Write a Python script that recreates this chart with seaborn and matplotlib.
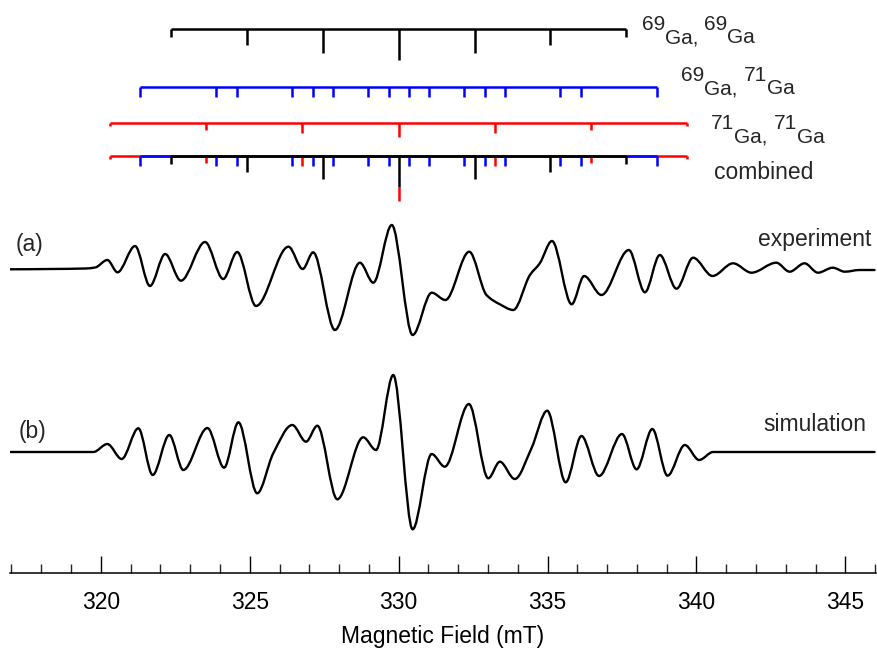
import numpy as np
import pandas as pd
import matplotlib
matplotlib.use("Agg")
import matplotlib.pyplot as plt
from matplotlib.path import Path
from matplotlib.patches import PathPatch
from matplotlib import transforms
import seaborn as sns

# ---------------------------------------------------------------- data
# Stick spectra (line positions in mT, relative intensities)
ga69_69_field = [322.37, 324.91, 327.46, 330.00, 332.55, 335.09, 337.64]
ga69_69_int = [1, 2, 3, 4, 3, 2, 1]

ga69_71_field = [321.33, 323.88, 324.57, 326.42, 327.11, 327.80, 328.97, 329.66,
                 330.34, 331.03, 332.20, 332.89, 333.58, 335.43, 336.12, 338.67]
ga69_71_int = [1.33] * 16

ga71_71_field = [320.30, 323.53, 326.77, 330.00, 333.23, 336.47, 339.70]
ga71_71_int = [0.44, 0.88, 1.32, 1.76, 1.32, 0.88, 0.44]

# Experimental spectrum: turning points / shoulders of the derivative trace
exp_field = [316.96, 318.30, 319.48, 319.81, 320.22, 320.56, 321.15, 321.65, 322.16,
             322.69, 323.50, 324.11, 324.58, 325.21, 326.30, 326.78, 327.13, 327.86,
             328.70, 329.15, 329.77, 330.47, 331.11, 331.57, 332.37, 332.95, 333.40,
             333.85, 334.41, 334.74, 335.15, 335.81, 336.23, 336.81, 337.73, 338.27,
             338.77, 339.33, 339.89, 340.54, 341.23, 341.85, 342.68, 343.13, 343.63,
             344.08, 344.58, 344.98, 345.48, 345.98]
exp_signal = [-0.3, 0.0, 0.5, 1.5, 9.0, -3.3, 23.0, -17.0, 15.0,
              -11.7, 27.0, -10.0, 17.0, -37.0, 22.3, 0.0, 16.7, -61.0,
              6.3, -13.7, 44.0, -66.0, -23.7, -31.0, 17.3, -26.0, -35.3,
              -41.0, -6.0, 5.7, 28.0, -35.3, -7.0, -26.0, 19.0, -23.3,
              14.0, -19.7, 11.3, -7.0, 5.7, -3.7, 6.3, -2.7, 5.7,
              -3.7, 1.3, -2.7, -1.0, -1.0]

# Simulated spectrum
sim_field = [316.96, 319.75, 320.22, 320.70, 321.26, 321.74, 322.30, 322.77, 323.58,
             324.14, 324.62, 325.25, 325.79, 326.43, 326.89, 327.27, 327.94, 328.81,
             329.24, 329.82, 330.47, 331.11, 331.55, 332.36, 333.01, 333.40, 333.90,
             334.46, 334.99, 335.61, 336.14, 336.73, 337.50, 337.99, 338.52, 339.03,
             339.61, 340.09, 340.56, 345.98]
sim_signal = [0.0, 0.0, 8.0, -7.0, 23.7, -23.0, 17.0, -18.0, 24.0,
              -15.7, 29.7, -41.3, -1.3, 27.0, 10.3, 26.3, -47.3, 14.7,
              2.0, 77.0, -77.3, -2.0, -14.7, 48.0, -26.3, -9.7, -27.0,
              3.7, 41.3, -30.3, 16.0, -24.0, 18.0, -17.3, 23.0, -23.7,
              7.0, -8.0, 0.0, 0.0]

x_ticks_major = [320, 325, 330, 335, 340, 345]

# ---------------------------------------------------------------- layout
W, H = 877, 650
AX_BOTTOM_ROW = 572.7          # pixel row of the field axis
X_LEFT_PX, X_RIGHT_PX = 10, 876
XLIM = (316.95, 346.03)

EXP_OFFSET = AX_BOTTOM_ROW - 269.0
SIM_OFFSET = AX_BOTTOM_ROW - 452.0
ROW_69_69 = AX_BOTTOM_ROW - 29.3
ROW_69_71 = AX_BOTTOM_ROW - 86.7
ROW_71_71 = AX_BOTTOM_ROW - 123.0
ROW_COMB = AX_BOTTOM_ROW - 156.0
STICK_UNIT = 7.75              # stick length per unit intensity
STICK_LW = 1.8
TRACE_LW = 1.7

sns.set_theme(style="ticks")
plt.rcParams["font.family"] = ["Liberation Sans", "DejaVu Sans"]

fig = plt.figure(figsize=(W / 100, H / 100), dpi=100)
ax = fig.add_axes([X_LEFT_PX / W, (H - AX_BOTTOM_ROW) / H,
                   (X_RIGHT_PX - X_LEFT_PX) / W, AX_BOTTOM_ROW / H])
ax.set_xlim(*XLIM)
ax.set_ylim(0, AX_BOTTOM_ROW)
ax.patch.set_alpha(0)


def smooth_path(x, y, offset):
    """Shape-preserving cubic through the given turning points."""
    x = np.asarray(x, float)
    y = np.asarray(y, float) + offset
    h = np.diff(x)
    d = np.diff(y) / h
    m = np.zeros_like(x)
    for i in range(1, len(x) - 1):
        if d[i - 1] * d[i] > 0:
            w1 = 2 * h[i] + h[i - 1]
            w2 = h[i] + 2 * h[i - 1]
            m[i] = (w1 + w2) / (w1 / d[i - 1] + w2 / d[i])
    verts = [(x[0], y[0])]
    codes = [Path.MOVETO]
    for i in range(len(h)):
        verts += [(x[i] + h[i] / 3, y[i] + m[i] * h[i] / 3),
                  (x[i + 1] - h[i] / 3, y[i + 1] - m[i + 1] * h[i] / 3),
                  (x[i + 1], y[i + 1])]
        codes += [Path.CURVE4] * 3
    return Path(verts, codes)


for fx, sy, off in [(exp_field, exp_signal, EXP_OFFSET),
                    (sim_field, sim_signal, SIM_OFFSET)]:
    ax.add_patch(PathPatch(smooth_path(fx, sy, off), fill=False, ec="black",
                           lw=TRACE_LW, joinstyle="round", capstyle="round"))


def stick_frame(field, inten, row, start=None):
    rows = []
    lo, hi = min(field), max(field)
    rows += [("base", lo, row), ("base", hi, row)]
    for i, (f, a) in enumerate(zip(field, inten)):
        s = row - (start[i] if start is not None else 0.0)
        rows += [(f"s{i}", f, s), (f"s{i}", f, s - a * STICK_UNIT)]
    return pd.DataFrame(rows, columns=["unit", "field", "y"])


def draw_sticks(df, color):
    sns.lineplot(data=df, x="field", y="y", units="unit", estimator=None,
                 sort=False, color=color, lw=STICK_LW, ax=ax, legend=False,
                 solid_capstyle="butt")


# individual isotopomer patterns
draw_sticks(stick_frame(ga69_69_field, ga69_69_int, ROW_69_69), "black")
draw_sticks(stick_frame(ga69_71_field, ga69_71_int, ROW_69_71), "#0000ff")
draw_sticks(stick_frame(ga71_71_field, ga71_71_int, ROW_71_71), "#ff0000")

# combined pattern: coincident red lines are stacked under the black ones
black_len = {round(f, 2): a * STICK_UNIT for f, a in zip(ga69_69_field, ga69_69_int)}
red_start = [black_len.get(round(f, 2), 0.0) for f in ga71_71_field]
draw_sticks(stick_frame(ga71_71_field, ga71_71_int, ROW_COMB, red_start), "#ff0000")
draw_sticks(stick_frame(ga69_71_field, ga69_71_int, ROW_COMB), "#0000ff")
draw_sticks(stick_frame(ga69_69_field, ga69_69_int, ROW_COMB), "black")


# ---------------------------------------------------------------- labels
def px_to_field(px):
    return XLIM[0] + (px - X_LEFT_PX) / (X_RIGHT_PX - X_LEFT_PX) * (XLIM[1] - XLIM[0])


renderer = fig.canvas.get_renderer()


def iso_label(x_px, base_row, mass1, mass2, size=15, raise_px=13.3):
    y = AX_BOTTOM_ROW - base_row
    tr = ax.transData
    x = px_to_field(x_px)
    pieces = [(mass1, raise_px), ("Ga,", 0), (mass2, raise_px), ("Ga", 0)]
    dx = 0.0
    for k, (txt, rp) in enumerate(pieces):
        t = ax.text(x, y, txt, fontsize=size, ha="left", va="baseline",
                    transform=transforms.offset_copy(tr, fig=fig, x=dx, y=rp, units="dots"))
        dx += t.get_window_extent(renderer).width
        if k == 1:
            dx += 0.278 * size * 100 / 72


iso_label(641.7, 43.3, "69", "69")
iso_label(681.0, 94.3, "69", "71")
iso_label(711.0, 142.7, "71", "71")

TXT = 16.5
ax.text(px_to_field(714.3), AX_BOTTOM_ROW - 179.3, "combined", fontsize=TXT,
        ha="left", va="baseline")
ax.text(px_to_field(16.0), AX_BOTTOM_ROW - 251.5, "(a)", fontsize=TXT,
        ha="left", va="baseline")
ax.text(px_to_field(18.3), AX_BOTTOM_ROW - 438.3, "(b)", fontsize=TXT,
        ha="left", va="baseline")
ax.text(px_to_field(871.7), AX_BOTTOM_ROW - 246.0, "experiment", fontsize=TXT,
        ha="right", va="baseline")
ax.text(px_to_field(866.7), AX_BOTTOM_ROW - 431.0, "simulation", fontsize=TXT,
        ha="right", va="baseline")

# ---------------------------------------------------------------- axis
ax.set_xticks(x_ticks_major)
ax.set_xticks(np.arange(317, 347, 1), minor=True)
ax.set_yticks([])
ax.tick_params(axis="x", which="major", direction="in", length=12.2, width=1.0,
               pad=13, labelsize=TXT, colors="black", top=False, bottom=True)
ax.tick_params(axis="x", which="minor", direction="in", length=6.3, width=1.0,
               top=False, bottom=True)
ax.set_xlabel("Magnetic Field (mT)", fontsize=TXT, labelpad=8, color="black")
ax.set_ylabel("")
sns.despine(ax=ax, left=True, right=True, top=True)
ax.spines["bottom"].set_linewidth(1.1)
ax.spines["bottom"].set_color("black")

fig.savefig("out.png", dpi=100, facecolor="white")
